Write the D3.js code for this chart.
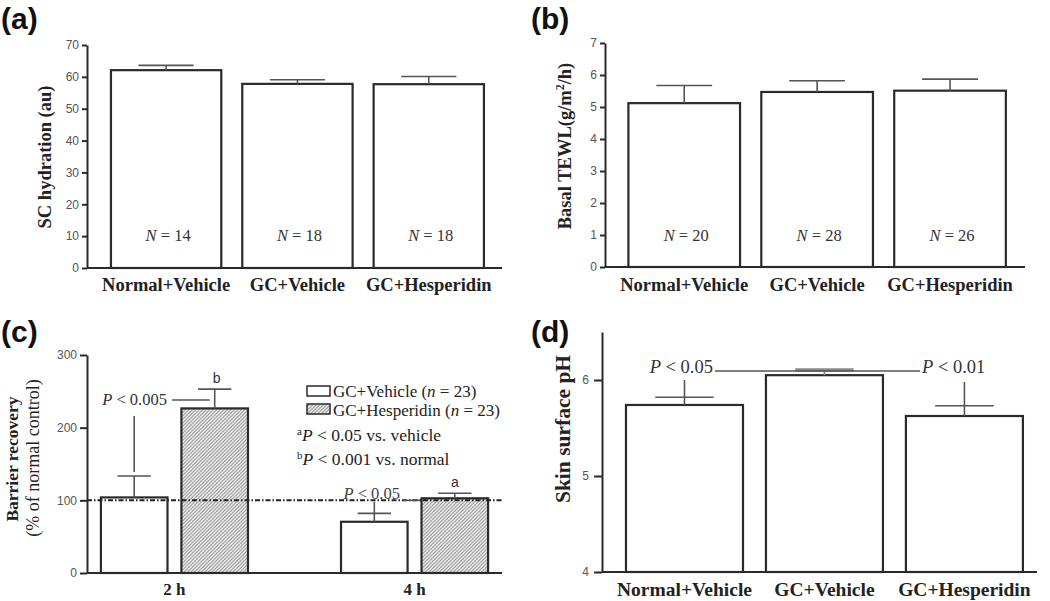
<!DOCTYPE html>
<html><head><meta charset="utf-8">
<script src="https://cdn.jsdelivr.net/npm/d3@7"></script>
<style>body{margin:0;background:#fff} svg{display:block}</style>
</head><body><svg id="c" width="1050" height="601"></svg>
<script>
// ---------- data ----------
const groups = ["Normal+Vehicle", "GC+Vehicle", "GC+Hesperidin"];
const hydrationMean = [62.1, 57.8, 57.7];
const hydrationSem = [1.5, 1.3, 2.4];
const hydrationN = [14, 18, 18];
const hydrationTicks = [0, 10, 20, 30, 40, 50, 60, 70];

const tewlMean = [5.12, 5.47, 5.51];
const tewlSem = [0.55, 0.35, 0.36];
const tewlN = [20, 28, 26];
const tewlTicks = [0, 1, 2, 3, 4, 5, 6, 7];

const timePoints = ["2 h", "4 h"];
const treatments = ["GC+Vehicle", "GC+Hesperidin"];
const recoveryVehicle = [104, 70.5];
const recoveryVehicleSem = [29.5, 11.5];
const recoveryHesperidin = [226.5, 102.8];
const recoveryHesperidinSem = [26.5, 6.9];
const recoveryN = [23, 23];
const recoveryTicks = [0, 100, 200, 300];
const normalLevel = 100;

const phMean = [5.74, 6.05, 5.625];
const phSem = [0.08, 0.055, 0.107];
const phTicks = [4, 5, 6];

// ---------- styles ----------
const SERIF = "'Liberation Serif','Times New Roman',serif";
const SANS = "'Liberation Sans',Arial,sans-serif";
const INK = "#2a2a2a";
const svg = d3.select("#c");

const defs = svg.append("defs");
const pat = defs.append("pattern").attr("id", "hatch")
  .attr("patternUnits", "userSpaceOnUse").attr("width", 3.5).attr("height", 3.5);
pat.append("rect").attr("width", 3.5).attr("height", 3.5).attr("fill", "#f4f4f4");
pat.append("path").attr("d", "M-1,1 l2,-2 M0,3.5 l3.5,-3.5 M2.5,4.5 l2,-2")
  .attr("stroke", "#808080").attr("stroke-width", 0.9);

function panelLabel(x, y, t) {
  svg.append("text").attr("x", x).attr("y", y).text(t)
    .attr("font-family", SANS).attr("font-weight", "bold")
    .attr("font-size", 30).attr("fill", "#111");
}

function yAxis(g, y, x0, ticks, size, pad) {
  const ax = g.append("g").attr("transform", `translate(${x0},0)`)
    .call(d3.axisLeft(y).tickValues(ticks).tickFormat(d3.format("d"))
      .tickSize(size).tickPadding(pad).tickSizeOuter(0));
  ax.select(".domain").attr("stroke", INK).attr("stroke-width", 2);
  ax.selectAll(".tick line").attr("stroke", INK).attr("stroke-width", 2);
  ax.selectAll(".tick text").attr("font-family", SANS).attr("font-size", 12).attr("fill", "#555");
  return ax;
}

function rotLabel(g, x, y, size, weight) {
  return g.append("text")
    .attr("transform", `translate(${x},${y}) rotate(-90)`)
    .attr("text-anchor", "middle").attr("dy", "0.35em")
    .attr("font-family", SERIF).attr("font-weight", weight)
    .attr("font-size", size).attr("fill", "#222");
}

function errBar(g, cx, yTop, yCap, half, color, width) {
  g.append("line").attr("x1", cx).attr("x2", cx).attr("y1", yTop).attr("y2", yCap)
    .attr("stroke", color || "#555").attr("stroke-width", 1.6);
  g.append("line").attr("x1", cx - half).attr("x2", cx + half).attr("y1", yCap).attr("y2", yCap)
    .attr("stroke", color || "#555").attr("stroke-width", width || 1.6);
}

function barPanel(o) {
  const g = svg.append("g");
  const x = d3.scaleBand().domain(groups).range([o.x0, o.x1])
    .paddingInner(o.pi).paddingOuter(o.po).align(o.align);
  const y = d3.scaleLinear().domain(o.domain).range([o.yb, o.yt]);
  const bw = x.bandwidth();
  g.selectAll("rect.bar").data(groups).enter().append("rect")
    .attr("x", d => x(d)).attr("width", bw)
    .attr("y", (d, i) => y(o.mean[i])).attr("height", (d, i) => y(o.domain[0]) - y(o.mean[i]))
    .attr("fill", "#fff").attr("stroke", INK).attr("stroke-width", 2.2);
  groups.forEach((d, i) => {
    const cx = x(d) + bw / 2;
    const special = o.capStyle && o.capStyle[i];
    errBar(g, cx, y(o.mean[i]), y(o.mean[i] + o.sem[i]), bw / 4,
      special ? "#8a8a8a" : "#555", special ? 3.5 : 1.6);
  });
  if (o.n) {
    const t = g.selectAll("text.n").data(groups).enter().append("text")
      .attr("x", d => x(d) + bw / 2 + 2).attr("y", o.nY)
      .attr("text-anchor", "middle").attr("font-family", SERIF)
      .attr("font-size", 16.5).attr("fill", "#333");
    t.append("tspan").attr("font-style", "italic").text("N");
    t.append("tspan").text((d, i) => " = " + o.n[i]);
  }
  g.append("line").attr("x1", o.x0).attr("x2", o.x1).attr("y1", o.yb).attr("y2", o.yb)
    .attr("stroke", INK).attr("stroke-width", 2);
  yAxis(g, y, o.x0, o.ticks, o.tickSize, o.tickPad);
  g.selectAll("text.cat").data(groups).enter().append("text")
    .attr("x", d => x(d) + bw / 2).attr("y", o.catY)
    .attr("text-anchor", "middle").attr("font-family", SERIF).attr("font-weight", "bold")
    .attr("font-size", o.catSize).attr("fill", "#222").text(d => d);
  return { g, x, y, bw };
}

// ---------- (a) ----------
panelLabel(1, 29, "(a)");
const pa = barPanel({
  x0: 87, x1: 502, yb: 268, yt: 45, domain: [0, 70], pi: 0.16, po: 0.16, align: 0.57,
  mean: hydrationMean, sem: hydrationSem, n: hydrationN, nY: 241, ticks: hydrationTicks,
  tickSize: 5, tickPad: 3, catY: 291, catSize: 18.5
});
rotLabel(pa.g, 45, 157, 18.5, "bold").text("SC hydration (au)");

// ---------- (b) ----------
panelLabel(531, 29, "(b)");
const pb = barPanel({
  x0: 605, x1: 1025, yb: 267, yt: 43, domain: [0, 7], pi: 0.16, po: 0.16, align: 0.55,
  mean: tewlMean, sem: tewlSem, n: tewlN, nY: 241, ticks: tewlTicks,
  tickSize: 5, tickPad: 3, catY: 291, catSize: 18.5
});
const lb = rotLabel(pb.g, 565, 146, 18.5, "bold");
lb.append("tspan").text("Basal TEWL(g/m");
lb.append("tspan").attr("font-size", 12).attr("dy", -7).text("2");
lb.append("tspan").attr("dy", 7).text("/h)");

// ---------- (c) ----------
panelLabel(1, 342, "(c)");
{
  const g = svg.append("g");
  const x0 = d3.scaleBand().domain(timePoints).range([87, 502]).paddingInner(0.3875).paddingOuter(0.058);
  const x1 = d3.scaleBand().domain(treatments).range([0, x0.bandwidth()]).paddingInner(0.173).paddingOuter(0);
  const y = d3.scaleLinear().domain([0, 300]).range([573, 355]);
  const bw = x1.bandwidth();
  const rows = [];
  timePoints.forEach((t, i) => {
    rows.push({ t, tr: treatments[0], v: recoveryVehicle[i], s: recoveryVehicleSem[i] });
    rows.push({ t, tr: treatments[1], v: recoveryHesperidin[i], s: recoveryHesperidinSem[i] });
  });
  const cx = r => x0(r.t) + x1(r.tr) + bw / 2;
  g.selectAll("rect.bar").data(rows).enter().append("rect")
    .attr("x", r => x0(r.t) + x1(r.tr)).attr("width", bw)
    .attr("y", r => y(r.v)).attr("height", r => y(0) - y(r.v))
    .attr("fill", r => r.tr === treatments[0] ? "#fff" : "url(#hatch)")
    .attr("stroke", INK).attr("stroke-width", 2.2);
  rows.forEach(r => errBar(g, cx(r), y(r.v), y(r.v + r.s), bw / 4));
  g.append("line").attr("x1", 87).attr("x2", 502).attr("y1", y(normalLevel)).attr("y2", y(normalLevel))
    .attr("stroke", "#222").attr("stroke-width", 2).attr("stroke-dasharray", "5,2,1.5,2");
  const v2 = rows[0], h2 = rows[1], v4 = rows[2], h4 = rows[3];
  g.append("line").attr("x1", cx(v2)).attr("x2", cx(v2)).attr("y1", y(139)).attr("y2", y(216))
    .attr("stroke", "#555").attr("stroke-width", 1.6);
  g.append("line").attr("x1", 172).attr("x2", cx(h2) - 5).attr("y1", y(238)).attr("y2", y(238))
    .attr("stroke", "#555").attr("stroke-width", 1.6);
  const p1 = g.append("text").attr("x", 167).attr("y", 405).attr("text-anchor", "end")
    .attr("font-family", SERIF).attr("font-size", 16.5).attr("fill", "#333");
  p1.append("tspan").attr("font-style", "italic").text("P");
  p1.append("tspan").text(" < 0.005");
  g.append("text").attr("x", cx(h2) + 2).attr("y", 383).attr("text-anchor", "middle")
    .attr("font-family", SANS).attr("font-size", 14).attr("fill", "#333").text("b");
  g.append("line").attr("x1", cx(v4)).attr("x2", cx(v4)).attr("y1", y(v4.v + v4.s)).attr("y2", y(98))
    .attr("stroke", "#555").attr("stroke-width", 1.6);
  g.append("line").attr("x1", 404).attr("x2", 420).attr("y1", y(100)).attr("y2", y(100))
    .attr("stroke", "#555").attr("stroke-width", 1.6);
  const p2 = g.append("text").attr("x", 400).attr("y", 499).attr("text-anchor", "end")
    .attr("font-family", SERIF).attr("font-size", 16.5).attr("fill", "#444");
  p2.append("tspan").attr("font-style", "italic").text("P");
  p2.append("tspan").text(" < 0.05");
  g.append("text").attr("x", cx(h4)).attr("y", 487).attr("text-anchor", "middle")
    .attr("font-family", SANS).attr("font-size", 14).attr("fill", "#333").text("a");
  g.append("line").attr("x1", 87).attr("x2", 502).attr("y1", 573).attr("y2", 573)
    .attr("stroke", INK).attr("stroke-width", 2);
  yAxis(g, y, 87, recoveryTicks, 7, 3);
  g.selectAll("text.cat").data(timePoints).enter().append("text")
    .attr("x", d => x0(d) + x0.bandwidth() / 2).attr("y", 595)
    .attr("text-anchor", "middle").attr("font-family", SERIF).attr("font-weight", "bold")
    .attr("font-size", 17).attr("fill", "#222").text(d => d);
  rotLabel(g, 12, 459, 17.5, "bold").text("Barrier recovery");
  rotLabel(g, 33, 458, 18, "normal").text("(% of normal control)");
  const leg = g.append("g");
  treatments.forEach((tr, i) => {
    leg.append("rect").attr("x", 307).attr("y", 386 + i * 18).attr("width", 23).attr("height", 10)
      .attr("fill", i === 0 ? "#fff" : "url(#hatch)").attr("stroke", INK).attr("stroke-width", 1.5);
    const t = leg.append("text").attr("x", 333).attr("y", 397 + i * 18.5)
      .attr("font-family", SERIF).attr("font-size", 17).attr("fill", "#222");
    t.append("tspan").text(tr + " (");
    t.append("tspan").attr("font-style", "italic").text("n");
    t.append("tspan").text(" = " + recoveryN[i] + ")");
  });
  const notes = [["a", " < 0.05 vs. vehicle"], ["b", " < 0.001 vs. normal"]];
  notes.forEach((nt, i) => {
    const t = leg.append("text").attr("x", 297).attr("y", 441 + i * 24)
      .attr("font-family", SERIF).attr("font-size", 17.5).attr("fill", "#222");
    t.append("tspan").attr("font-size", 11).attr("dy", -6).text(nt[0]);
    t.append("tspan").attr("font-style", "italic").attr("dy", 6).text("P");
    t.append("tspan").text(nt[1]);
  });
}

// ---------- (d) ----------
panelLabel(531, 342, "(d)");
const pd = barPanel({
  x0: 602, x1: 1037, yb: 572, yt: 332, domain: [4, 6.5], pi: 0.164, po: 0.136, align: 0.63,
  mean: phMean, sem: phSem, n: null, ticks: phTicks,
  tickSize: 8, tickPad: 5, catY: 596, catSize: 19.5, capStyle: [false, true, false]
});
rotLabel(pd.g, 562, 429, 21.5, "bold").text("Skin surface pH");
{
  const g = pd.g, x = pd.x, y = pd.y, bw = pd.bw;
  const c1 = x(groups[0]) + bw / 2, c3 = x(groups[2]) + bw / 2;
  g.append("line").attr("x1", c1).attr("x2", c1).attr("y1", y(phMean[0] + phSem[0])).attr("y2", y(6.0))
    .attr("stroke", "#555").attr("stroke-width", 1.6);
  g.append("line").attr("x1", c3).attr("x2", c3).attr("y1", y(phMean[2] + phSem[2])).attr("y2", y(5.98))
    .attr("stroke", "#555").attr("stroke-width", 1.6);
  g.append("line").attr("x1", 715).attr("x2", 920).attr("y1", y(6.094)).attr("y2", y(6.094))
    .attr("stroke", "#555").attr("stroke-width", 1.6);
  const t1 = g.append("text").attr("x", 713).attr("y", 373).attr("text-anchor", "end")
    .attr("font-family", SERIF).attr("font-size", 18.5).attr("fill", "#333");
  t1.append("tspan").attr("font-style", "italic").text("P");
  t1.append("tspan").text(" < 0.05");
  const t2 = g.append("text").attr("x", 922).attr("y", 373)
    .attr("font-family", SERIF).attr("font-size", 18.5).attr("fill", "#333");
  t2.append("tspan").attr("font-style", "italic").text("P");
  t2.append("tspan").text(" < 0.01");
}
</script></body></html>
